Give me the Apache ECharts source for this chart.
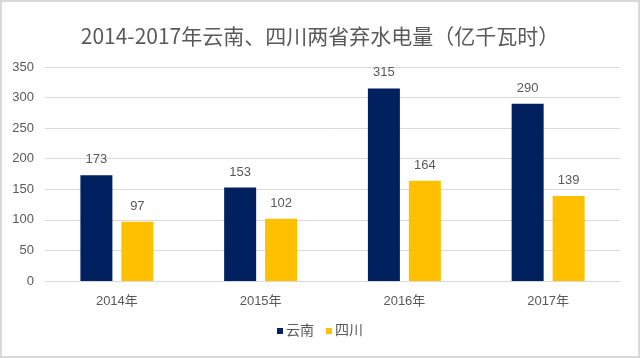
<!DOCTYPE html>
<html><head><meta charset="utf-8">
<script src="https://cdn.jsdelivr.net/npm/echarts@6/dist/echarts.min.js"></script>
<style>html,body{margin:0;padding:0;background:#fff}#c{width:640px;height:358px;box-sizing:border-box;border:2px solid #d9d9d9}</style>
</head><body><div id="c"></div>
<script>
var categories = ['2014年','2015年','2016年','2017年'];
var yunnan = [173,153,315,290];
var sichuan = [97,102,164,139];
var chart = echarts.init(document.getElementById('c'));
var ff = '"Liberation Sans","Noto Sans CJK SC",sans-serif';
chart.setOption({
  animation:false,
  title:{text:'2014-2017年云南、四川两省弃水电量（亿千瓦时）',left:'center',top:19,
    textStyle:{fontSize:21,fontWeight:'normal',color:'#595959',fontFamily:'"Noto Sans CJK SC",sans-serif'}},
  grid:{left:43,right:18,top:65,bottom:75},
  legend:{bottom:13,itemWidth:6,itemHeight:6,itemGap:12,icon:'rect',
    textStyle:{color:'#595959',fontSize:14,padding:[0,0,0,-2],fontFamily:ff},data:['云南','四川']},
  xAxis:{type:'category',data:categories,
    axisLine:{lineStyle:{color:'#d9d9d9'}},axisTick:{show:false},
    axisLabel:{color:'#595959',fontSize:13,margin:14,fontFamily:ff}},
  yAxis:{type:'value',min:0,max:350,interval:50,
    axisLine:{show:false},axisTick:{show:false},
    splitLine:{lineStyle:{color:'#d9d9d9'}},
    axisLabel:{color:'#595959',fontSize:13,margin:11,fontFamily:ff}},
  series:[
    {name:'云南',type:'bar',data:yunnan,barWidth:32,barGap:'28%',itemStyle:{color:'#002060'},
     label:{show:true,position:'top',distance:9,color:'#595959',fontSize:13,fontFamily:ff}},
    {name:'四川',type:'bar',data:sichuan,barWidth:32,itemStyle:{color:'#FFC000'},
     label:{show:true,position:'top',distance:9,color:'#595959',fontSize:13,fontFamily:ff}}
  ]
});
</script></body></html>
